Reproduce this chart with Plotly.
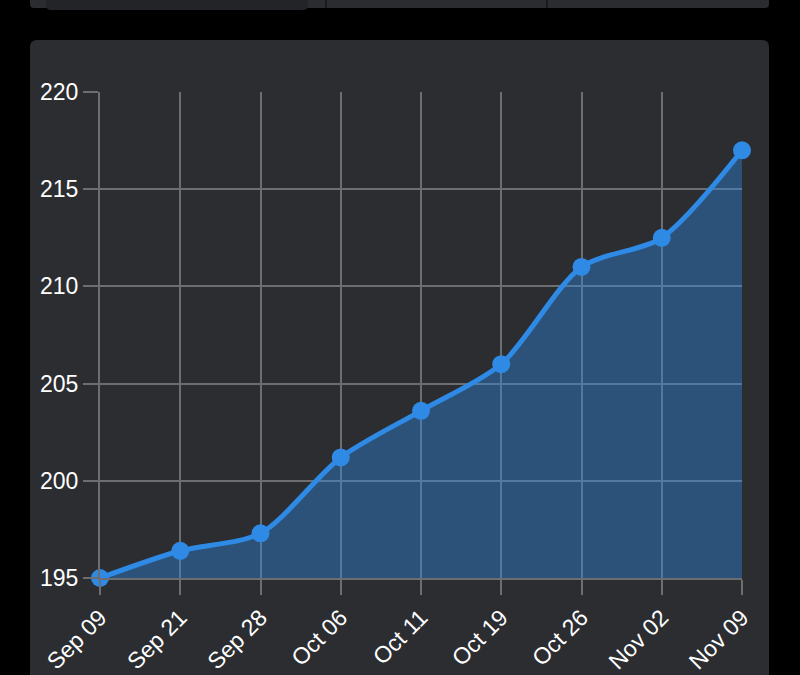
import plotly.graph_objects as go

# chart data
dates = ["Sep 09", "Sep 21", "Sep 28", "Oct 06", "Oct 11", "Oct 19", "Oct 26", "Nov 02", "Nov 09"]
values = [195.0, 196.4, 197.3, 201.2, 203.6, 206.0, 211.0, 212.5, 217.0]
y_ticks = [195, 200, 205, 210, 215, 220]

W, H = 800, 675
L, R, T, B = 100, 58, 92, 97
pw = W - L - R
ph = H - T - B


def px(x):
    return (x - L) / pw


def py(y):
    return (H - B - y) / ph


def rounded_rect(x0, y0, x1, y1, r):
    # pixel coords -> paper coords path with rounded corners
    rx, ry = r / pw, r / ph
    a, b, c, d = px(x0), py(y0), px(x1), py(y1)
    return (f"M {a + rx},{b} L {c - rx},{b} Q {c},{b} {c},{b - ry} "
            f"L {c},{d + ry} Q {c},{d} {c - rx},{d} "
            f"L {a + rx},{d} Q {a},{d} {a},{d + ry} "
            f"L {a},{b - ry} Q {a},{b} {a + rx},{b} Z")


fig = go.Figure()
fig.add_trace(go.Scatter(
    x=dates, y=values,
    mode="lines+markers",
    line=dict(color="#2f8ae5", width=5, shape="spline", smoothing=0.8),
    marker=dict(color="#2f8ae5", size=18),
    fill="tozeroy",
    fillcolor="rgba(47,138,229,0.40)",
    cliponaxis=False,
    hoverinfo="x+y",
))

shapes = [
    # top partial card
    dict(type="path", xref="paper", yref="paper", layer="below",
         path=rounded_rect(30, -20, 769, 8, 4),
         fillcolor="#2a2c30", line=dict(width=0)),
    dict(type="path", xref="paper", yref="paper", layer="below",
         path=rounded_rect(46, -20, 308, 10, 5),
         fillcolor="#222428", line=dict(width=0)),
    dict(type="line", xref="paper", yref="paper", layer="below",
         x0=px(326), x1=px(326), y0=py(0), y1=py(8),
         line=dict(color="#1a1b1e", width=2)),
    dict(type="line", xref="paper", yref="paper", layer="below",
         x0=px(547), x1=px(547), y0=py(0), y1=py(8),
         line=dict(color="#1a1b1e", width=2)),
    # main card
    dict(type="path", xref="paper", yref="paper", layer="below",
         path=rounded_rect(30, 40, 769, 700, 7),
         fillcolor="#2b2d31", line=dict(width=0)),
]

axis_font = dict(family="Liberation Sans, Arial, sans-serif", size=23, color="#ffffff")

fig.update_layout(
    width=W, height=H,
    margin=dict(l=L, r=R, t=T, b=B),
    paper_bgcolor="#000000",
    plot_bgcolor="rgba(0,0,0,0)",
    showlegend=False,
    shapes=shapes,
    xaxis=dict(
        type="category", range=[0, len(dates) - 1], automargin=False,
        showgrid=True, gridcolor="#6d6e70", gridwidth=2,
        showline=True, linecolor="#6d6e70", linewidth=2,
        ticks="outside", ticklen=15, tickwidth=2, tickcolor="#6d6e70",
        tickangle=-45, tickfont=axis_font, zeroline=False,
    ),
    yaxis=dict(
        range=[195, 220], tickvals=y_ticks, automargin=False,
        showgrid=True, gridcolor="#6d6e70", gridwidth=2,
        showline=True, linecolor="#6d6e70", linewidth=2,
        ticks="outside", ticklen=15, tickwidth=2, tickcolor="#6d6e70",
        tickfont=axis_font, zeroline=False,
    ),
)

fig.write_html(
    "out.html",
    config={"displayModeBar": False},
    post_script="document.body.style.margin='0';document.body.style.background='#000';",
)
